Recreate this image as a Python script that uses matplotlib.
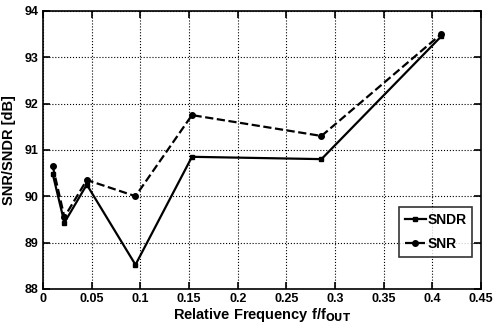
import matplotlib
matplotlib.use("Agg")
import matplotlib.pyplot as plt

# values
freq = [0.010, 0.022, 0.045, 0.095, 0.153, 0.286, 0.409]
sndr = [90.48, 89.43, 90.25, 88.52, 90.85, 90.80, 93.45]
snr = [90.65, 89.55, 90.35, 90.00, 91.75, 91.30, 93.50]
xticks = [0, 0.05, 0.1, 0.15, 0.2, 0.25, 0.3, 0.35, 0.4, 0.45]
xticklabels = ['0', '0.05', '0.1', '0.15', '0.2', '0.25', '0.3', '0.35', '0.4', '0.45']
yticks = [88, 89, 90, 91, 92, 93, 94]

plt.rcParams['font.family'] = ['Liberation Sans', 'DejaVu Sans']

fig = plt.figure(figsize=(4.94, 3.29), dpi=100)
ax = fig.add_axes([0.087, 0.122, 0.887, 0.845])

ax.plot(freq, sndr, '-', color='black', lw=1.6, marker='s', ms=3.5, label='SNDR')
ax.plot(freq, snr, '--', color='black', lw=1.6, marker='o', ms=4, label='SNR')

ax.set_xlim(0, 0.45)
ax.set_ylim(88, 94)
ax.set_xticks(xticks)
ax.set_xticklabels(xticklabels)
ax.set_yticks(yticks)
ax.grid(True, linestyle=':', color='black', lw=0.8)
ax.tick_params(direction='in', top=True, right=True, length=5, width=1.2,
               labelsize=9, pad=3)
for lab in ax.get_xticklabels() + ax.get_yticklabels():
    lab.set_fontweight('bold')
for s in ax.spines.values():
    s.set_linewidth(1.2)

ax.set_xlabel('Relative Frequency f/f$_{\\mathbf{OUT}}$', fontsize=10.5,
              fontweight='bold', labelpad=1)
ax.set_ylabel('SNR/SNDR [dB]', fontsize=10.5, fontweight='bold', labelpad=6)

leg = ax.legend(loc='lower right', bbox_to_anchor=(0.98, 0.115), fancybox=False,
                edgecolor='black', handlelength=1.5,
                handletextpad=0.15, borderpad=0.4, borderaxespad=0,
                labelspacing=0.75, prop={'weight': 'bold', 'size': 10})
leg.get_frame().set_linewidth(1.2)

fig.savefig('out.png', dpi=100)
